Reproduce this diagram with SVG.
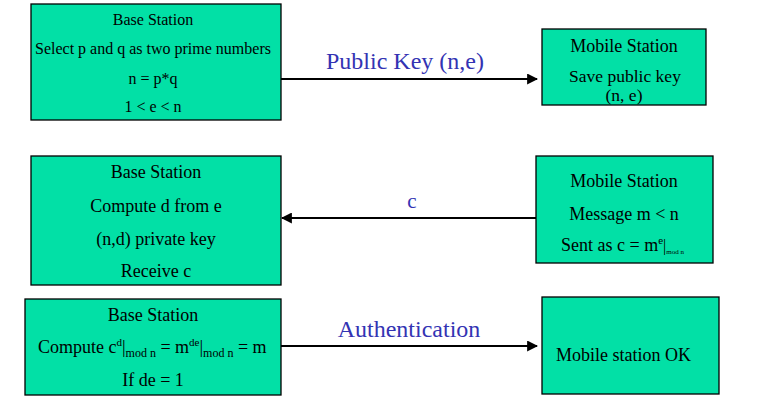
<svg xmlns="http://www.w3.org/2000/svg" width="758" height="407" viewBox="0 0 758 407">
<defs>
<style>
.box{fill:#02e0a6;stroke:#000;stroke-width:1.3}
.t{fill:#000;text-anchor:middle}
.lbl{fill:#3333b3;text-anchor:middle}
.conn{stroke:#000;stroke-width:2.2;fill:none}
</style>
<marker id="ah" viewBox="0 0 10 10" refX="9" refY="5" markerWidth="5" markerHeight="5" orient="auto" markerUnits="strokeWidth">
<path d="M0,0 L10,5 L0,10 z" fill="#000"/>
</marker>
</defs>
<rect width="758" height="407" fill="#fff"/>
<g font-family="Liberation Serif, Times New Roman, serif">
<g id="base1">
<rect class="box" x="31" y="4" width="250" height="116"/>
<text class="t" x="153" y="25" font-size="16">Base Station</text>
<text class="t" x="153" y="54" font-size="16">Select p and q as two prime numbers</text>
<text class="t" x="153" y="84" font-size="16">n = p*q</text>
<text class="t" x="153" y="112" font-size="16">1 &lt; e &lt; n</text>
</g>

<g id="mobile1">
<rect class="box" x="542" y="29" width="164" height="76"/>
<text class="t" x="624" y="52" font-size="18">Mobile Station</text>
<text class="t" x="625" y="82" font-size="17.5">Save public key</text>
<text class="t" x="624" y="101" font-size="17.5">(n, e)</text>
</g>

<g id="base2">
<rect class="box" x="31" y="156" width="250" height="129"/>
<text class="t" x="156" y="178" font-size="18">Base Station</text>
<text class="t" x="156" y="212" font-size="18">Compute d from e</text>
<text class="t" x="156" y="245" font-size="18">(n,d) private key</text>
<text class="t" x="156" y="277" font-size="18">Receive c</text>
</g>

<g id="mobile2">
<rect class="box" x="536" y="156" width="177" height="107"/>
<text class="t" x="624" y="187" font-size="18">Mobile Station</text>
<text class="t" x="624" y="220" font-size="18">Message m &lt; n</text>
<text class="t" x="561" y="251" font-size="18" style="text-anchor:start">Sent as c = m<tspan font-size="11" dy="-7">e</tspan><tspan font-size="16" dy="7">|</tspan><tspan font-size="7" dy="3">mod n</tspan></text>
</g>

<g id="base3">
<rect class="box" x="25" y="299" width="256" height="96"/>
<text class="t" x="153" y="321" font-size="18">Base Station</text>
<text class="t" x="38" y="353" font-size="18" style="text-anchor:start">Compute c<tspan font-size="11" dy="-7">d</tspan><tspan font-size="18" dy="7">|</tspan><tspan font-size="12" dy="4">mod n</tspan><tspan font-size="18" dy="-4"> = m</tspan><tspan font-size="11" dy="-7">de</tspan><tspan font-size="18" dy="7">|</tspan><tspan font-size="12" dy="4">mod n</tspan><tspan font-size="18" dy="-4"> = m</tspan></text>
<text class="t" x="153" y="386" font-size="18">If de = 1</text>
</g>

<g id="mobile3">
<rect class="box" x="542" y="297" width="177" height="97"/>
<text class="t" x="556" y="361" font-size="18" style="text-anchor:start">Mobile station OK</text>
</g>

<g id="connectors">
<line class="conn" x1="281" y1="79" x2="537" y2="79" marker-end="url(#ah)"/>
<line class="conn" x1="536" y1="218" x2="282" y2="218" marker-end="url(#ah)"/>
<line class="conn" x1="281" y1="346" x2="537" y2="346" marker-end="url(#ah)"/>
<text class="lbl" x="405" y="69" font-size="24">Public Key (n,e)</text>
<text class="lbl" x="412" y="208" font-size="21">c</text>
<text class="lbl" x="409" y="337" font-size="24">Authentication</text>
</g>
</g>
</svg>
